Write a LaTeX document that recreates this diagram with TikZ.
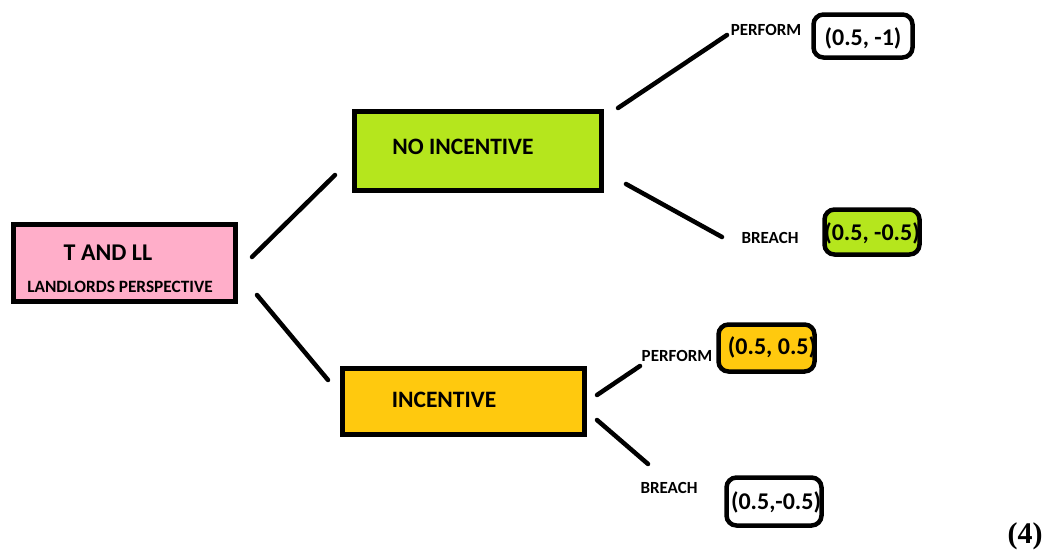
\documentclass[tikz,border=0pt]{standalone}
\usepackage{fontspec}
\setmainfont{Carlito}
\newfontfamily\timesfont{Liberation Serif}
\definecolor{rose}{HTML}{FFAEC9}
\definecolor{lime}{HTML}{B5E61D}
\definecolor{gold}{HTML}{FFC90E}
\begin{document}
\begin{tikzpicture}[x=1pt,y=-1pt,
  bigbox/.style={draw=black, line width=5.5pt, inner sep=0pt},
  paybox/.style={draw=black, line width=4.5pt, rounded corners=10pt, inner sep=0pt},
  edge/.style={line width=4.5pt, line cap=round},
  lbl/.style={font=\bfseries\fontsize{17}{17}\selectfont, inner sep=0pt},
  pay/.style={font=\bfseries\fontsize{24}{24}\selectfont, inner sep=0pt},
  head/.style={font=\bfseries\fontsize{23.5}{23.5}\selectfont, inner sep=0pt}]
\useasboundingbox (0,0) rectangle (1047,554);
% main boxes
\node[bigbox, fill=rose, minimum width=222pt, minimum height=77pt] (root) at (124.5,263) {};
\node[head, font=\bfseries\fontsize{24}{24}\selectfont] (rootT) at (108,253) {T AND LL};
\node[lbl, font=\bfseries\fontsize{17.3}{17.3}\selectfont] (rootS) at (120,287) {LANDLORDS PERSPECTIVE};
\node[bigbox, fill=lime, minimum width=247pt, minimum height=79pt] (noinc) at (478,151) {};
\node[head] (noincT) at (463,147) {NO INCENTIVE};
\node[bigbox, fill=gold, minimum width=242pt, minimum height=66pt] (inc) at (463.5,401.5) {};
\node[head] (incT) at (444,400) {INCENTIVE};
% payoffs
\node[paybox, fill=white, minimum width=99pt, minimum height=43pt] (p1) at (863,36) {};
\node[pay] (p1t) at (863,38) {(0.5, -1)};
\node[paybox, fill=lime, minimum width=95pt, minimum height=45pt] (p2) at (872,232) {};
\node[pay] (p2t) at (872,233) {(0.5, -0.5)};
\node[paybox, fill=gold, minimum width=96pt, minimum height=47pt] (p3) at (766.5,348) {};
\node[pay] (p3t) at (772,347) {(0.5, 0.5)};
\node[paybox, fill=white, minimum width=95pt, minimum height=48pt] (p4) at (774,501.5) {};
\node[pay] (p4t) at (776,502) {(0.5,-0.5)};
% branch labels
\node[lbl] (l1) at (766,30) {PERFORM};
\node[lbl] (l2) at (770,238) {BREACH};
\node[lbl] (l3) at (677,356) {PERFORM};
\node[lbl] (l4) at (669,488) {BREACH};
% connector ends
\coordinate (a1) at (252,257); \coordinate (a2) at (335,175);
\coordinate (b1) at (257,295); \coordinate (b2) at (328,380);
\coordinate (c1) at (618,108); \coordinate (c2) at (727,35);
\coordinate (d1) at (626,184); \coordinate (d2) at (722,237);
\coordinate (e1) at (597,395); \coordinate (e2) at (640,366);
\coordinate (f1) at (597,420); \coordinate (f2) at (648,464);
\draw[edge] (a1) -- (a2);
\draw[edge] (b1) -- (b2);
\draw[edge] (c1) -- (c2);
\draw[edge] (d1) -- (d2);
\draw[edge] (e1) -- (e2);
\draw[edge] (f1) -- (f2);
\node[font=\timesfont\bfseries\fontsize{30}{30}\selectfont, inner sep=0pt] (num) at (1025,536) {(4)};
\end{tikzpicture}
\end{document}
